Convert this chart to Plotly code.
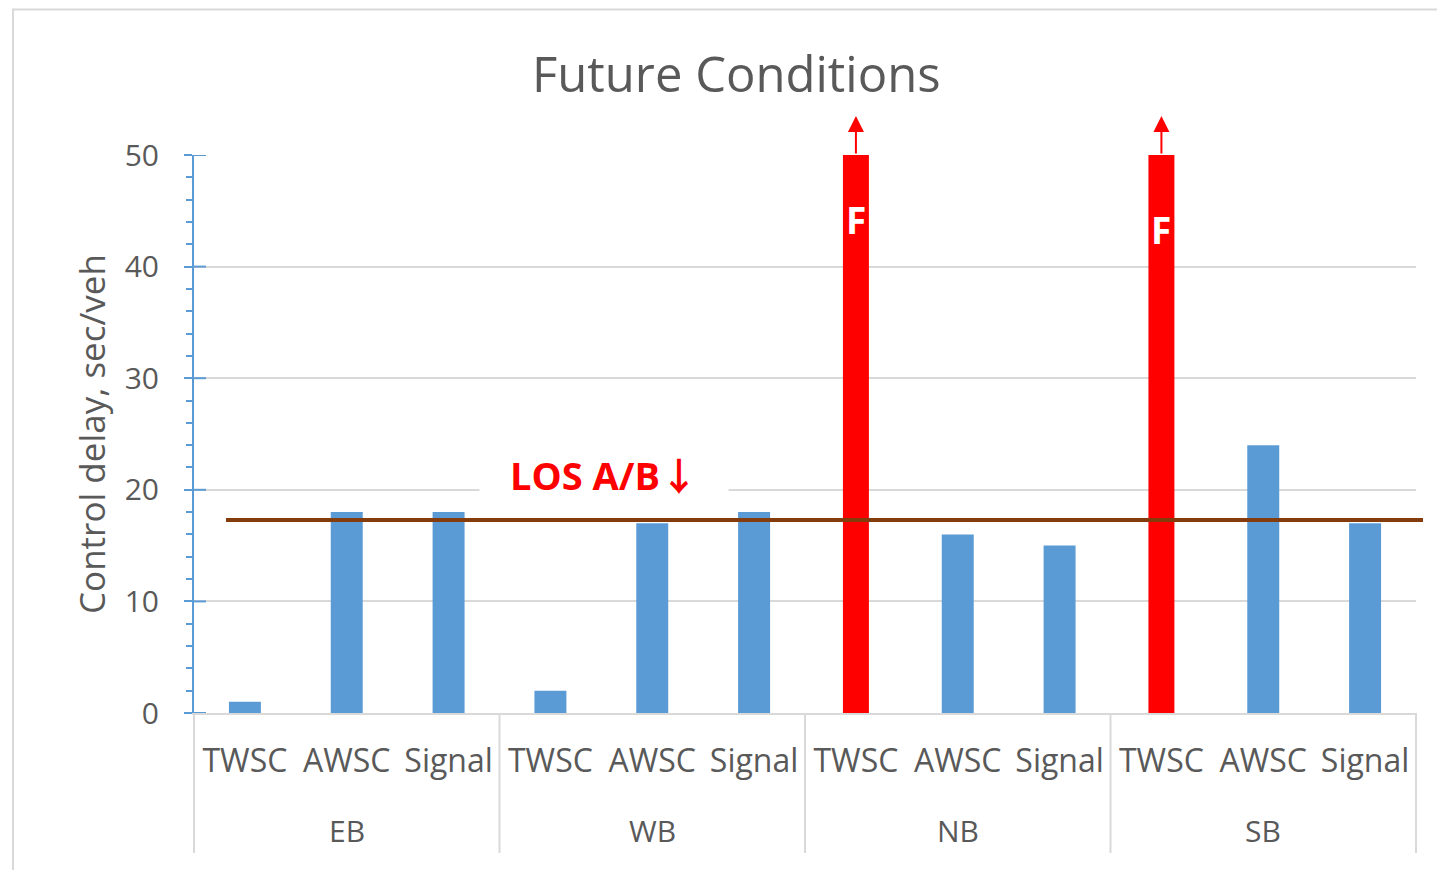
import plotly.graph_objects as go

# ---- data ----
directions = ["EB", "WB", "NB", "SB"]
controls = ["TWSC", "AWSC", "Signal"]
delay_ok = [1, 18, 18, 2, 17, 18, None, 16, 15, None, 24, 17]      # sec/veh
delay_fail = [None, None, None, None, None, None, 50.3, None, None, 50.3, None, None]  # LOS F, off-scale
fail_label_y = {6: 44.2, 9: 43.3}
los_ab_threshold = 17.3
y_ticks = [0, 10, 20, 30, 40, 50]

FONT = "Open Sans"
GREY_TXT = "#595959"
x_idx = list(range(len(delay_ok)))
tick_text = [c for _ in directions for c in controls]

# plot area in page pixels (page body has an 8px margin)
OFF = 8
L, R, T, B = 194, 1416, 155, 713
W, H = 1445, 870
pw, ph = R - L, B - T
def px_x(p):
    return (p - L) / pw
def px_y(p):
    return (B - p) / ph

fig = go.Figure()
fig.add_trace(go.Bar(x=x_idx, y=delay_ok, width=0.314, marker=dict(color="#5B9BD5", line=dict(width=0)),
                     showlegend=False, hoverinfo="y"))
fig.add_trace(go.Bar(x=x_idx, y=delay_fail, width=0.255, marker=dict(color="#FF0000", line=dict(width=0)),
                     showlegend=False, hoverinfo="skip"))

shapes = []
# outer chart border
shapes.append(dict(type="rect", xref="paper", yref="paper", x0=px_x(13), x1=px_x(1450),
                   y0=px_y(875), y1=px_y(9.5), line=dict(color="#D9D9D9", width=2), fillcolor="rgba(0,0,0,0)",
                   layer="below"))
# category dividers
for g in range(len(directions) + 1):
    xp = g / len(directions)
    shapes.append(dict(type="line", xref="paper", yref="paper", x0=xp, x1=xp, y0=0, y1=px_y(853),
                       line=dict(color="#D9D9D9", width=2)))
# crossing part of major y ticks
for v in y_ticks:
    shapes.append(dict(type="line", xref="paper", yref="y", x0=0, x1=px_x(206), y0=v, y1=v,
                       line=dict(color="#5B9BD5", width=2)))
# LOS A/B threshold line
shapes.append(dict(type="line", xref="paper", yref="y", x0=px_x(226), x1=px_x(1423),
                   y0=los_ab_threshold, y1=los_ab_threshold, line=dict(color="#843C0C", width=4)))

annotations = []
# group labels
for gi, g in enumerate(directions):
    annotations.append(dict(x=gi * 3 + 1, y=px_y(830), xref="x", yref="paper", text=g, showarrow=False,
                            font=dict(family=FONT, size=30, color=GREY_TXT), yanchor="middle"))
# F labels and arrows
for i, yv in fail_label_y.items():
    annotations.append(dict(x=i, y=yv, xref="x", yref="y", text="<b>F</b>", showarrow=False,
                            font=dict(family=FONT, size=37, color="white")))
    annotations.append(dict(x=i, y=53.5, xref="x", yref="y", ax=i, ay=50, axref="x", ayref="y",
                            text="", showarrow=True, arrowhead=2, arrowsize=1.6, arrowwidth=2,
                            arrowcolor="#FF0000"))
# LOS label
annotations.append(dict(x=px_x(604), y=px_y(473), xref="paper", yref="paper",
                        text="<b>LOS A/B</b><span style='font-family:\"Noto Sans CJK JP\";font-weight:bold'>↓</span>",
                        showarrow=False, bgcolor="white", width=246, height=46,
                        font=dict(family=FONT, size=38, color="#FF0000")))
# title
annotations.append(dict(x=px_x(736), y=px_y(73), xref="paper", yref="paper", text="Future Conditions",
                        showarrow=False, font=dict(family=FONT, size=49, color=GREY_TXT),
                        xanchor="center", yanchor="middle"))

fig.update_layout(
    width=W - OFF, height=H - OFF, autosize=False,
    margin=dict(l=L - OFF, r=W - R, t=T - OFF, b=H - B),
    paper_bgcolor="white", plot_bgcolor="white",
    barmode="overlay",
    shapes=shapes, annotations=annotations,
    font=dict(family=FONT, color=GREY_TXT),
)
fig.update_xaxes(
    range=[-0.5, 11.5], tickmode="array", tickvals=x_idx, ticktext=tick_text,
    tickfont=dict(family=FONT, size=32, color=GREY_TXT), ticks="", ticklabelstandoff=19,
    showline=True, linecolor="#D9D9D9", linewidth=2, showgrid=False, zeroline=False, fixedrange=True,
)
fig.update_yaxes(
    range=[0, 50], tickvals=y_ticks, tickfont=dict(family=FONT, size=30, color=GREY_TXT),
    showline=True, linecolor="#5B9BD5", linewidth=2,
    ticks="outside", ticklen=8, tickwidth=2, tickcolor="#5B9BD5", ticklabelstandoff=19,
    minor=dict(dtick=2, ticks="outside", ticklen=6, tickwidth=2, tickcolor="#5B9BD5", showgrid=False),
    showgrid=True, gridcolor="#D9D9D9", gridwidth=2, zeroline=False,
    title=dict(text="Control delay, sec/veh", font=dict(family=FONT, size=35, color=GREY_TXT), standoff=8),
)

fig.write_html("out.html")
